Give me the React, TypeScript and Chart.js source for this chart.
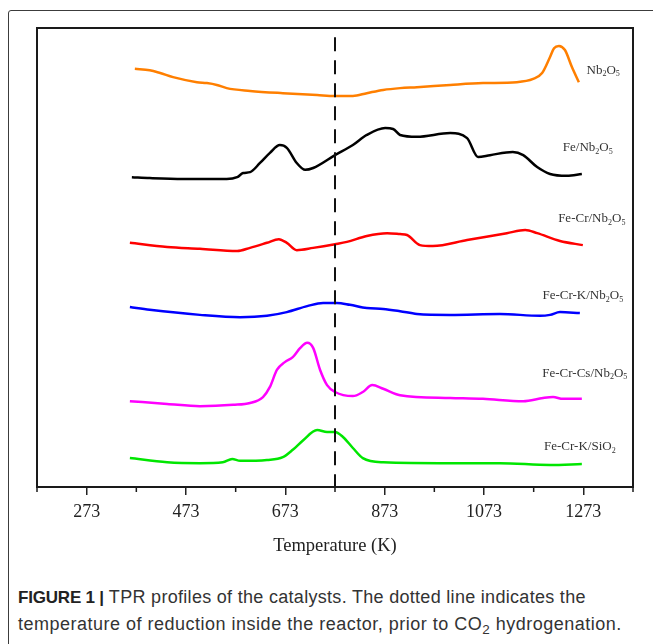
import React, { useEffect, useRef } from "react";
import { Chart, registerables } from "chart.js";

Chart.register(...registerables);

// ---- Axis ticks ----
const majorTicks = [273, 473, 673, 873, 1073, 1273];
const minorTicks = [173, 373, 573, 773, 973, 1173, 1373];
const reductionTemp = 773;

// ---- Series (temperature K, signal a.u. with vertical offsets as in the figure) ----
const nb2o5T = [370, 400, 421, 447, 495, 515, 535, 555, 602, 668, 737, 773, 809, 837, 870, 904, 938, 1005, 1071, 1139, 1172, 1190, 1206, 1214, 1224, 1236, 1250, 1264];
const nb2o5Y = [91.1, 90.8, 90.2, 89.3, 88.2, 88.0, 87.6, 86.9, 86.3, 85.8, 85.4, 85.2, 85.2, 85.8, 86.5, 86.9, 87.1, 87.6, 88.0, 88.2, 88.9, 90.2, 93.7, 95.6, 96.1, 95.2, 91.5, 88.2];

const feNbT = [364, 400, 467, 555, 576, 588, 602, 622, 642, 662, 676, 696, 713, 729, 773, 809, 837, 874, 890, 904, 938, 1005, 1039, 1061, 1085, 1131, 1152, 1180, 1206, 1240, 1270];
const feNbY = [67.5, 67.3, 67.1, 67.1, 67.5, 68.4, 68.6, 70.6, 72.8, 74.5, 73.9, 70.6, 69.1, 69.5, 72.3, 74.5, 76.7, 78.2, 78.0, 76.7, 76.3, 77.1, 76.0, 71.9, 72.3, 73.0, 72.3, 69.7, 68.2, 67.8, 68.2];

const feCrT = [360, 435, 501, 576, 602, 636, 660, 676, 696, 729, 773, 797, 837, 878, 904, 918, 944, 970, 1039, 1119, 1156, 1180, 1226, 1272];
const feCrY = [53.2, 52.3, 51.9, 51.4, 52.1, 53.2, 54.0, 53.2, 51.6, 52.1, 52.9, 53.4, 54.7, 55.3, 55.1, 54.9, 52.7, 52.5, 53.8, 55.3, 56.0, 55.3, 53.6, 52.7];

const feCrKT = [360, 400, 501, 582, 636, 676, 717, 749, 777, 803, 837, 870, 904, 938, 1005, 1105, 1186, 1206, 1226, 1266];
const feCrKY = [39.2, 38.6, 37.5, 37.0, 37.3, 38.1, 39.4, 40.1, 40.1, 39.7, 39.0, 38.8, 38.3, 37.7, 37.5, 37.7, 37.3, 37.5, 38.1, 37.9];

const feCrCsT = [360, 435, 501, 568, 602, 628, 642, 656, 672, 688, 703, 717, 729, 743, 757, 773, 809, 829, 848, 870, 904, 1005, 1071, 1152, 1192, 1212, 1232, 1270];
const feCrCsY = [18.7, 18.1, 17.6, 17.9, 18.3, 19.6, 21.8, 25.5, 27.2, 28.3, 30.3, 31.4, 30.3, 25.5, 22.2, 20.7, 19.8, 20.7, 22.2, 21.4, 20.0, 19.4, 19.2, 18.7, 19.4, 19.6, 19.2, 19.2];

const feCrKSiT = [360, 435, 501, 547, 566, 582, 636, 668, 688, 709, 737, 757, 773, 789, 809, 829, 870, 1005, 1105, 1206, 1270];
const feCrKSiY = [6.3, 5.4, 5.2, 5.4, 6.1, 5.7, 5.9, 6.5, 8.1, 10.2, 12.4, 12.0, 12.0, 10.9, 8.5, 6.3, 5.4, 5.2, 5.2, 4.8, 5.0];

const seriesNames = ["Nb2O5", "Fe/Nb2O5", "Fe-Cr/Nb2O5", "Fe-Cr-K/Nb2O5", "Fe-Cr-Cs/Nb2O5", "Fe-Cr-K/SiO2"];
const seriesColors = ["#FF7F00", "#000000", "#FF0000", "#0000FF", "#FF00FF", "#00E600"];
const seriesT = [nb2o5T, feNbT, feCrT, feCrKT, feCrCsT, feCrKSiT];
const seriesY = [nb2o5Y, feNbY, feCrY, feCrKY, feCrCsY, feCrKSiY];
const labelT = [1313, 1282, 1290, 1272, 1276, 1266];
const labelY = [90.8, 73.9, 58.4, 41.6, 24.8, 8.7];

const SERIF = '"Liberation Serif", "Times New Roman", serif';

function drawRich(ctx: CanvasRenderingContext2D, text: string, cx: number, cy: number, size: number) {
  const parts: { t: string; sub: boolean }[] = [];
  const re = /([^0-9]+)|([0-9])/g;
  let m: RegExpExecArray | null;
  while ((m = re.exec(text))) {
    if (m[1]) parts.push({ t: m[1], sub: false });
    else parts.push({ t: m[2], sub: true });
  }
  const subSize = size * 0.62;
  let total = 0;
  const widths = parts.map((p) => {
    ctx.font = `${p.sub ? subSize : size}px ${SERIF}`;
    const w = ctx.measureText(p.t).width;
    total += w;
    return w;
  });
  let x = cx - total / 2;
  ctx.textBaseline = "middle";
  ctx.textAlign = "left";
  parts.forEach((p, i) => {
    ctx.font = `${p.sub ? subSize : size}px ${SERIF}`;
    ctx.fillText(p.t, x, p.sub ? cy + size * 0.28 : cy);
    x += widths[i];
  });
}

const overlay = {
  id: "overlay",
  afterDatasetsDraw(chart: any) {
    const { ctx, chartArea, scales } = chart;
    const { left, top, right, bottom } = chartArea;
    ctx.save();
    ctx.strokeStyle = "#1a1a1a";
    ctx.lineWidth = 2;
    ctx.strokeRect(left, top, right - left, bottom - top);
    ctx.lineWidth = 1.5;
    minorTicks.forEach((v) => {
      const px = scales.x.getPixelForValue(v);
      ctx.beginPath();
      ctx.moveTo(px, bottom);
      ctx.lineTo(px, bottom + 5);
      ctx.stroke();
    });
    ctx.fillStyle = "#333";
    seriesNames.forEach((name, i) => {
      drawRich(ctx, name, scales.x.getPixelForValue(labelT[i]), scales.y.getPixelForValue(labelY[i]), 13);
    });
    ctx.restore();
  },
};

export default function App() {
  const ref = useRef<HTMLCanvasElement>(null);
  useEffect(() => {
    const canvas = ref.current!;
    const datasets: any[] = [
      {
        label: "reduction",
        data: [
          { x: reductionTemp, y: 98 },
          { x: reductionTemp, y: 0 },
        ],
        borderColor: "#111",
        borderWidth: 2,
        borderDash: [14, 9],
        pointRadius: 0,
        tension: 0,
      },
      ...seriesNames.map((name, i) => ({
        label: name,
        data: seriesT[i].map((t, j) => ({ x: t, y: seriesY[i][j] })),
        borderColor: seriesColors[i],
        borderWidth: 2.5,
        pointRadius: 0,
        cubicInterpolationMode: "monotone",
      })),
    ];
    const chart = new Chart(canvas, {
      type: "line",
      data: { datasets },
      options: {
        responsive: false,
        animation: false,
        layout: { padding: { left: 37, right: 20, top: 28, bottom: 0 } },
        plugins: { legend: { display: false }, tooltip: { enabled: false } },
        scales: {
          x: {
            type: "linear",
            min: 173,
            max: 1373,
            afterBuildTicks: (s: any) => {
              s.ticks = majorTicks.map((v) => ({ value: v }));
            },
            afterFit: (s: any) => {
              s.height = 70;
            },
            grid: { drawOnChartArea: false, drawTicks: true, tickLength: 8, color: "#222", lineWidth: 1.5 },
            border: { display: false },
            ticks: {
              padding: 6,
              color: "#222",
              autoSkip: false,
              maxRotation: 0,
              font: { family: SERIF, size: 18 },
              callback: (v: any) => String(v),
            },
            title: {
              display: true,
              text: "Temperature (K)",
              color: "#222",
              font: { family: SERIF, size: 18.5 },
              padding: { top: 10, bottom: 0 },
            },
          },
          y: { display: false, min: 0, max: 100 },
        },
      } as any,
      plugins: [overlay],
    });
    return () => chart.destroy();
  }, []);

  return (
    <div style={{ position: "absolute", left: 0, top: 0, width: 653, height: 644, background: "#fff", overflow: "hidden" }}>
      <div style={{ position: "absolute", left: 8, top: 10, width: 700, height: 700, border: "1px solid #3c3c3c", borderRadius: 3 }} />
      <canvas ref={ref} width={653} height={557} style={{ position: "absolute", left: 0, top: 0, display: "block" }} />
      <div
        style={{
          position: "absolute",
          left: 18,
          top: 584,
          width: 640,
          fontFamily: '"Liberation Sans", Arial, sans-serif',
          fontSize: 18,
          lineHeight: "27px",
          color: "#333",
          whiteSpace: "nowrap",
        }}
      >
        <span style={{ letterSpacing: "0.3px" }}>
          <b style={{ color: "#222", fontSize: 17, letterSpacing: "-0.2px" }}>FIGURE 1 |</b> TPR profiles of the catalysts. The dotted line indicates the
        </span>
        <br />
        <span style={{ letterSpacing: "0.5px" }}>
          temperature of reduction inside the reactor, prior to CO
          <span style={{ fontSize: "0.75em", verticalAlign: "-0.3em", lineHeight: 0 }}>2</span> hydrogenation.
        </span>
      </div>
    </div>
  );
}
